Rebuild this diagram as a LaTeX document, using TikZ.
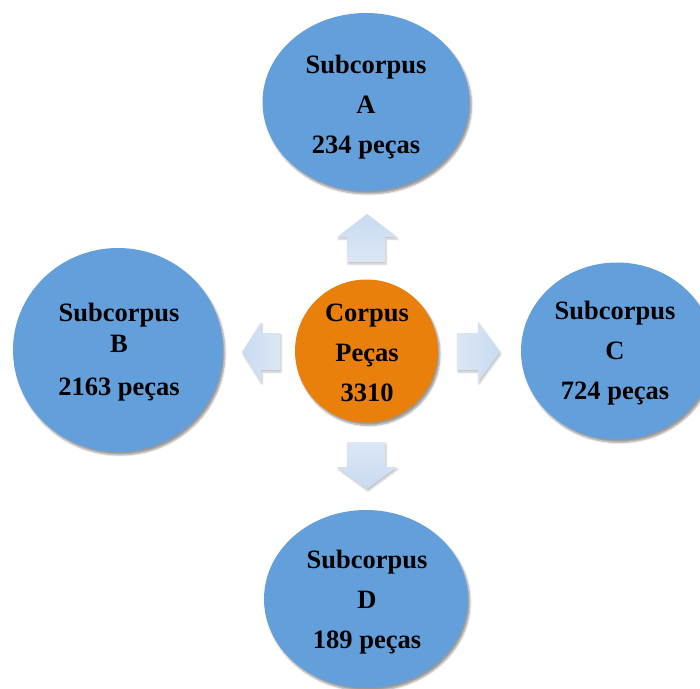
\documentclass[tikz,border=0pt]{standalone}
\usepackage{fontspec}
\setmainfont{Liberation Serif}
\usetikzlibrary{shapes.geometric,shadows.blur}
\definecolor{subblue}{RGB}{99,160,219}
\definecolor{corange}{RGB}{234,128,12}
\definecolor{arrA}{RGB}{200,218,242}
\definecolor{arrB}{RGB}{220,231,244}
\begin{document}
\begin{tikzpicture}[x=1pt,y=-1pt,
  lbl/.style={align=center,font=\bfseries\fontsize{26.5}{40}\selectfont},
  sub/.style={ellipse,fill=subblue,draw=none,inner sep=0pt,
    blur shadow={shadow xshift=2pt,shadow yshift=-3pt,shadow blur steps=6,shadow opacity=40}},
  core/.style={circle,fill=corange,draw=none,inner sep=0pt,minimum size=143pt,
    blur shadow={shadow xshift=2pt,shadow yshift=-3pt,shadow blur steps=6,shadow opacity=40}},
  bigarrow/.style={draw=none,
    blur shadow={shadow xshift=1pt,shadow yshift=-2pt,shadow blur steps=4,shadow opacity=25}}]
\useasboundingbox (0,0) rectangle (700,688);
\begin{scope}
\clip (0,0) rectangle (700,688);
\node[sub,minimum width=207pt,minimum height=178pt] (A) at (366,102) {};
\node[lbl] (At) at (366,107) {Subcorpus\\A\\234 peças};
\node[sub,minimum width=210pt,minimum height=204pt] (B) at (118,350) {};
\node[lbl] (Bt) at (119,352) {Subcorpus\\[-9pt]B\\[3pt]2163 peças};
\node[sub,minimum width=192pt,minimum height=177pt] (C) at (617,351) {};
\node[lbl] (Ct) at (615,353) {Subcorpus\\C\\724 peças};
\node[sub,minimum width=204pt,minimum height=178pt] (D) at (366,599) {};
\node[lbl] (Dt) at (367,602) {Subcorpus\\D\\189 peças};
\node[core] (O) at (366.5,351) {};
\node[lbl] (Ot) at (367,353) {Corpus\\Peças\\3310};
% arrows
\path[bigarrow,top color=arrA,bottom color=arrB] (367,214) -- (397,237) -- (385,237) -- (385,262) -- (347,262) -- (347,237) -- (337,237) -- cycle;
\path[bigarrow,top color=arrB,bottom color=arrA] (367,489) -- (397,467) -- (385,467) -- (385,442) -- (347,442) -- (347,467) -- (337,467) -- cycle;
\path[bigarrow,left color=arrA,right color=arrB] (242,352) -- (261,322) -- (261,333) -- (280,333) -- (280,370) -- (261,370) -- (261,382) -- cycle;
\path[bigarrow,left color=arrB,right color=arrA] (500,352) -- (478,322) -- (478,333) -- (457,333) -- (457,370) -- (478,370) -- (478,382) -- cycle;
\end{scope}
\end{tikzpicture}
\end{document}
